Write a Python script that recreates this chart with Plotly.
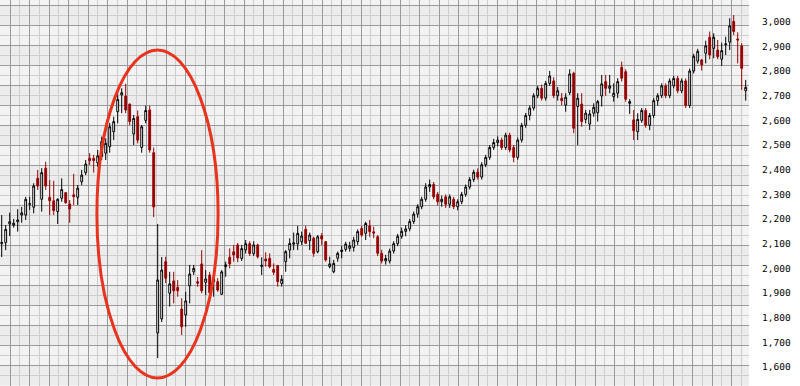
import plotly.graph_objects as go

# ---------------- data ----------------
open_ = [2100, 2104, 2180, 2175, 2189, 2216, 2216, 2260, 2248, 2365,
         2280, 2406, 2288, 2274, 2230, 2284, 2307, 2261, 2298, 2288,
         2351, 2388, 2446, 2446, 2428, 2453, 2467, 2493, 2554, 2635,
         2703, 2699, 2666, 2545, 2615, 2490, 2600, 2642, 2469, 1738,
         1795, 2027, 1899, 1949, 1923, 1835, 1811, 1929, 1986, 1946,
         2018, 1943, 1973, 1946, 1946, 1895, 2007, 2045, 2067, 2095,
         2040, 2075, 2100, 2060, 2095, 2008, 2038, 2041, 1996, 2011,
         1939, 2027, 2074, 2098, 2099, 2108, 2158, 2112, 2122, 2067,
         2132, 2108, 2007, 1986, 2041, 2068, 2077, 2081, 2085, 2108,
         2162, 2142, 2172, 2148, 2128, 2060, 2030, 2030, 2070, 2100,
         2130, 2150, 2160, 2190, 2220, 2250, 2280, 2330, 2340, 2300,
         2270, 2290, 2260, 2280, 2250, 2270, 2300, 2330, 2360, 2390,
         2370, 2420, 2450, 2490, 2510, 2520, 2490, 2540, 2490, 2450,
         2520, 2580, 2620, 2650, 2700, 2730, 2690, 2750, 2760, 2700,
         2690, 2662, 2712, 2791, 2656, 2666, 2604, 2585, 2629, 2631,
         2699, 2757, 2730, 2696, 2710, 2815, 2797, 2669, 2602, 2554,
         2600, 2640, 2580, 2620, 2680, 2700, 2740, 2700, 2740, 2770,
         2720, 2760, 2660, 2800, 2840, 2845, 2872, 2937, 2892, 2885,
         2848, 2907, 2917, 3001, 2930, 2902, 2720]
high = [2216, 2176, 2226, 2200, 2240, 2249, 2290, 2290, 2345, 2399,
        2406, 2432, 2358, 2355, 2284, 2365, 2310, 2277, 2383, 2338,
        2399, 2439, 2467, 2460, 2480, 2534, 2527, 2590, 2615, 2710,
        2730, 2748, 2668, 2622, 2640, 2581, 2660, 2660, 2490, 2180,
        2046, 2047, 1986, 1986, 1953, 1879, 1905, 2014, 2014, 1965,
        2074, 1993, 1986, 1980, 1960, 1993, 2027, 2081, 2095, 2103,
        2095, 2115, 2110, 2110, 2100, 2045, 2065, 2061, 2020, 2014,
        1973, 2074, 2122, 2145, 2172, 2149, 2172, 2145, 2128, 2135,
        2143, 2110, 2047, 2034, 2068, 2091, 2108, 2108, 2128, 2158,
        2172, 2189, 2196, 2169, 2135, 2075, 2055, 2080, 2110, 2140,
        2165, 2175, 2200, 2230, 2260, 2290, 2345, 2360, 2350, 2310,
        2295, 2300, 2300, 2290, 2280, 2310, 2340, 2370, 2400, 2405,
        2430, 2460, 2500, 2525, 2535, 2530, 2550, 2550, 2500, 2530,
        2590, 2630, 2660, 2710, 2740, 2745, 2760, 2800, 2775, 2735,
        2711, 2710, 2807, 2797, 2710, 2710, 2642, 2642, 2669, 2683,
        2784, 2784, 2784, 2750, 2771, 2838, 2807, 2686, 2642, 2629,
        2650, 2650, 2630, 2690, 2710, 2750, 2750, 2770, 2780, 2780,
        2770, 2770, 2810, 2870, 2890, 2849, 2923, 2960, 2953, 2926,
        2915, 2939, 3014, 3027, 2957, 2913, 2764]
low = [2046, 2074, 2131, 2165, 2149, 2185, 2196, 2237, 2223, 2318,
       2230, 2318, 2216, 2216, 2180, 2270, 2262, 2185, 2257, 2257,
       2338, 2378, 2419, 2388, 2412, 2439, 2439, 2469, 2520, 2588,
       2629, 2629, 2581, 2500, 2507, 2469, 2588, 2469, 2208, 1636,
       1782, 1940, 1845, 1858, 1885, 1730, 1763, 1858, 1973, 1925,
       1899, 1892, 1865, 1885, 1905, 1892, 1966, 2000, 2027, 2025,
       2030, 2060, 2050, 2050, 2040, 1973, 2007, 2000, 1973, 1926,
       1926, 1986, 2041, 2074, 2074, 2095, 2099, 2074, 2047, 2061,
       2095, 2027, 2000, 1980, 2027, 2041, 2068, 2068, 2068, 2095,
       2128, 2115, 2128, 2122, 2050, 2020, 2015, 2020, 2060, 2090,
       2120, 2130, 2150, 2180, 2205, 2240, 2270, 2310, 2280, 2255,
       2250, 2245, 2245, 2240, 2235, 2260, 2290, 2320, 2350, 2360,
       2360, 2410, 2440, 2480, 2495, 2480, 2480, 2470, 2430, 2440,
       2510, 2570, 2600, 2640, 2690, 2680, 2680, 2740, 2690, 2680,
       2662, 2635, 2703, 2548, 2500, 2574, 2588, 2561, 2615, 2595,
       2656, 2699, 2710, 2676, 2690, 2757, 2676, 2626, 2520, 2520,
       2590, 2570, 2560, 2610, 2660, 2690, 2690, 2690, 2730, 2710,
       2710, 2650, 2650, 2790, 2830, 2802, 2831, 2848, 2852, 2848,
       2821, 2865, 2885, 2946, 2831, 2723, 2680]
close = [2105, 2158, 2189, 2183, 2196, 2225, 2280, 2262, 2334, 2334,
         2388, 2334, 2274, 2234, 2280, 2320, 2266, 2241, 2291, 2325,
         2378, 2423, 2437, 2437, 2456, 2514, 2507, 2574, 2595, 2685,
         2712, 2642, 2595, 2608, 2520, 2574, 2640, 2480, 2249, 1953,
         1993, 1960, 1937, 1909, 1909, 1763, 1868, 1977, 2000, 1940,
         1909, 1957, 1901, 1956, 1912, 1986, 2014, 2018, 2054, 2042,
         2080, 2100, 2060, 2095, 2047, 2012, 2030, 2007, 1984, 1946,
         1956, 2068, 2101, 2103, 2142, 2131, 2102, 2135, 2061, 2128,
         2119, 2034, 2018, 2020, 2061, 2074, 2099, 2091, 2115, 2149,
         2135, 2182, 2149, 2143, 2061, 2030, 2040, 2070, 2100, 2130,
         2150, 2160, 2190, 2220, 2250, 2280, 2330, 2340, 2290, 2270,
         2280, 2260, 2290, 2250, 2270, 2300, 2330, 2360, 2390, 2370,
         2420, 2450, 2490, 2510, 2520, 2490, 2540, 2480, 2450, 2520,
         2580, 2620, 2650, 2700, 2730, 2690, 2750, 2780, 2700, 2720,
         2680, 2694, 2788, 2568, 2690, 2595, 2629, 2626, 2653, 2676,
         2748, 2730, 2739, 2710, 2757, 2771, 2686, 2676, 2558, 2604,
         2640, 2580, 2620, 2680, 2700, 2740, 2700, 2760, 2770, 2720,
         2760, 2660, 2800, 2860, 2880, 2825, 2902, 2865, 2937, 2858,
         2883, 2910, 2983, 2960, 2926, 2811, 2734]
days = list(range(len(open_)))

y_ticks = [1600, 1700, 1800, 1900, 2000, 2100, 2200, 2300,
           2400, 2500, 2600, 2700, 2800, 2900, 3000]
y_tick_labels = [f"{v:,}" for v in y_ticks]
clipped_tick = 3100  # label partly cut off at the top edge

# highlighted crash region (ellipse), in day / price units
crash_days = [23.8, 54.1]
crash_prices = [1555, 2885]

# ---------------- figure ----------------
W, H = 800, 386
PLOT_W = 749
LABEL_FONT = dict(family="DejaVu Sans Mono", size=9.5, color="#000000")

fig = go.Figure()
fig.add_trace(go.Candlestick(
    x=days, open=open_, high=high, low=low, close=close,
    increasing=dict(line=dict(color="#000000", width=1), fillcolor="#ffffff"),
    decreasing=dict(line=dict(color="#990000", width=1), fillcolor="#990000"),
    whiskerwidth=0, showlegend=False, hoverinfo="skip"))

# invisible trace that carries the pixel-based "graph paper" axes
fig.add_trace(go.Scatter(x=[0], y=[0], xaxis="x2", yaxis="y2", mode="markers",
                         marker=dict(opacity=0), showlegend=False, hoverinfo="skip"))

shapes = []
# white hairline texture in alternate horizontal bands
for band_top in range(-15, H, 40):
    for k in range(1, 20, 2):
        yy = band_top + k
        shapes.append(dict(type="line", xref="x2", yref="y2", x0=0, x1=PLOT_W,
                           y0=yy, y1=yy, line=dict(color="#fafafa", width=1),
                           layer="below"))
shapes.append(dict(type="circle", xref="x", yref="y",
                   x0=crash_days[0], x1=crash_days[1],
                   y0=crash_prices[0], y1=crash_prices[1],
                   line=dict(color="#e8341f", width=3), layer="above"))

fig.update_layout(
    width=W, height=H,
    margin=dict(l=0, r=W - PLOT_W, t=0, b=0),
    paper_bgcolor="#ffffff", plot_bgcolor="#ececec",
    boxgap=0.35,
    xaxis=dict(range=[-0.425, 186.825], showgrid=False, zeroline=False,
               showticklabels=False, rangeslider=dict(visible=False),
               showline=False, ticks=""),
    yaxis=dict(range=[1523, 3088], side="right", showgrid=False, zeroline=False,
               tickvals=y_ticks, ticktext=y_tick_labels, ticks="",
               ticklabelstandoff=12, tickfont=LABEL_FONT),
    xaxis2=dict(overlaying="x", range=[0, PLOT_W], showticklabels=False,
                zeroline=False, showline=False, ticks="",
                tick0=10, dtick=19.5, showgrid=True, gridcolor="#9a9a9a", gridwidth=1,
                minor=dict(tick0=10, dtick=9.75, showgrid=True,
                           gridcolor="#cdcdcd", gridwidth=1)),
    yaxis2=dict(overlaying="y", range=[H, 0], showticklabels=False,
                zeroline=False, showline=False, ticks="",
                tick0=5, dtick=20, showgrid=True, gridcolor="#9a9a9a", gridwidth=1,
                minor=dict(tick0=5, dtick=10, showgrid=True,
                           gridcolor="#cdcdcd", gridwidth=1)),
    shapes=shapes,
    annotations=[dict(xref="paper", x=1, xshift=14, xanchor="left",
                      yref="y", y=clipped_tick, yanchor="middle",
                      text=f"{clipped_tick:,}", showarrow=False, font=LABEL_FONT)],
)

fig.write_html("out.html")
